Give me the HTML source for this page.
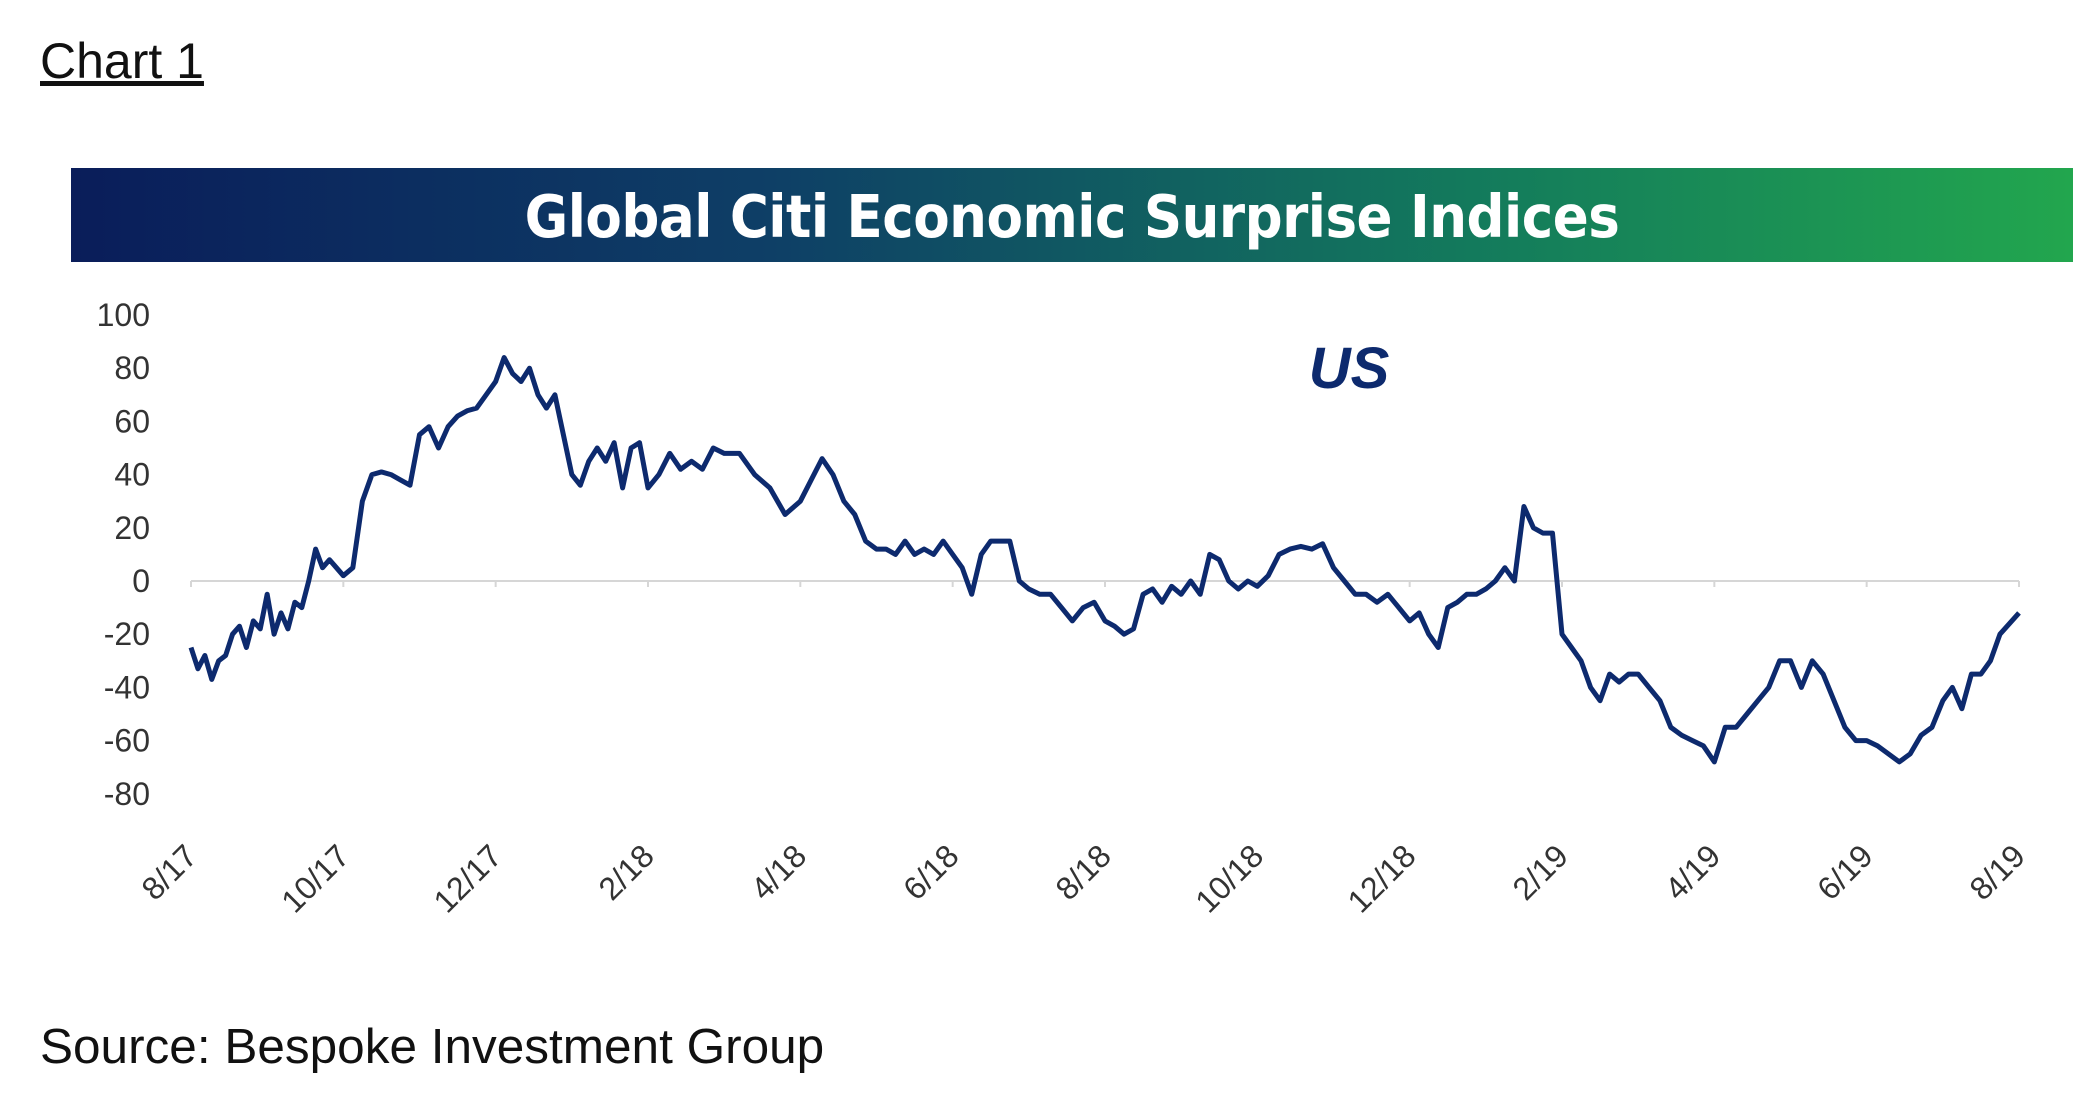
<!DOCTYPE html>
<html><head><meta charset="utf-8"><style>
body{margin:0;width:2090px;height:1114px;background:#fff;position:relative;overflow:hidden;font-family:"Liberation Sans",sans-serif}
#chart-label{position:absolute;left:40px;top:32px;font-size:50px;text-decoration:underline;color:#111}
#source{position:absolute;left:40px;top:1018px;font-size:49.5px;color:#111}
#banner{position:absolute;left:71px;top:168px;width:2002px;height:94px;background:linear-gradient(90deg,#0a1d5a 0%,#0e3f66 35%,#137a5c 70%,#22a64e 100%)}
#banner span{position:absolute;left:0;right:0;top:14px;text-align:center;color:#fff;font-weight:bold;font-size:59px;font-family:"DejaVu Sans Condensed","Liberation Sans",sans-serif;letter-spacing:-0.5px}
svg{position:absolute;left:0;top:0}
</style></head><body>
<div id="chart-label">Chart 1</div>
<div id="banner"><span>Global Citi Economic Surprise Indices</span></div>
<svg id="plot" width="2090" height="1114"></svg>
<div id="source">Source: Bespoke Investment Group</div>
<script>
const monthLabels=["8/17","10/17","12/17","2/18","4/18","6/18","8/18","10/18","12/18","2/19","4/19","6/19","8/19"];
const yTicks=[100,80,60,40,20,0,-20,-40,-60,-80];
const seriesByMonth=[
[-25,-33,-28,-37,-30,-28,-20,-17,-25,-15,-18],
[-5,-20,-12,-18,-8,-10,0,12,5,8,5],
[2,5,30,40,41,40,38,36],
[55,58,50,58,62,64,65,70],
[75,84,78,75,80,70,65,70,55],
[40,36,45,50,45,52,35,50,52],
[35,40,48,42,45,42,50],
[48,48,40,35,25],
[30,38,46,40,30,25,15],
[12,12,10,15,10,12,10,15],
[10,5,-5,10,15,15,15,0],
[-3,-5,-5,-10,-15,-10,-8],
[-15,-17,-20,-18,-5,-3,-8,-2],
[-5,0,-5,10,8,0,-3,0],
[-2,2,10,12,13,12,14],
[5,0,-5,-5,-8,-5,-10],
[-15,-12,-20,-25,-10,-8,-5,-5],
[-3,0,5,0,28,20,18,18],
[-20,-25,-30,-40,-45,-35,-38,-35],
[-35,-40,-45,-55,-58,-60,-62],
[-68,-55,-55,-50,-45,-40,-30],
[-30,-40,-30,-35,-45,-55,-60],
[-60,-62,-65,-68,-65,-58,-55],
[-45,-40,-48,-35,-35,-30,-20,-12]
];
const NS="http://www.w3.org/2000/svg";
const svg=document.getElementById('plot');
const x0=191,x1=2019,nMonths=24;
const xs=m=>x0+(x1-x0)*m/nMonths;
const ys=v=>581-v*2.66;
function mk(t,a){const e=document.createElementNS(NS,t);for(const k in a)e.setAttribute(k,a[k]);svg.appendChild(e);return e;}
const z=mk('line',{x1:x0,x2:x1,y1:ys(0),y2:ys(0),stroke:'#d6d6d6','stroke-width':2});


monthLabels.forEach((l,i)=>{
  const x=xs(i*2);
  const tk=mk('line',{x1:x,x2:x,y1:ys(0),y2:ys(0)+6,stroke:'#d6d6d6','stroke-width':2});
  
  
  const t=mk('text',{x:x+8,y:858,'text-anchor':'end','font-size':32,fill:'#333',transform:`rotate(-45 ${x+8} 858)`,'font-family':'Liberation Sans, sans-serif'});
  t.textContent=l;
  
  
});
yTicks.forEach(v=>{
  const t=mk('text',{x:150,y:ys(v)+11,'text-anchor':'end','font-size':32,fill:'#333','font-family':'Liberation Sans, sans-serif'});
  t.textContent=v;
  
  
});
let pts=[];
seriesByMonth.forEach((arr,m)=>arr.forEach((v,i)=>pts.push([xs(m+i/arr.length),ys(v)])));
pts[pts.length-1][0]=xs(nMonths);
const p=mk('polyline',{points:pts.map(q=>q.join(',')).join(' '),fill:'none',stroke:'#0d2a6e','stroke-width':5,'stroke-linejoin':'round'});


const us=mk('text',{x:1349,y:388,'text-anchor':'middle','font-size':58,'font-weight':'bold','font-style':'italic',fill:'#0d2a6e','font-family':'Liberation Sans, sans-serif'});
us.textContent='US';


</script>
</body></html>
